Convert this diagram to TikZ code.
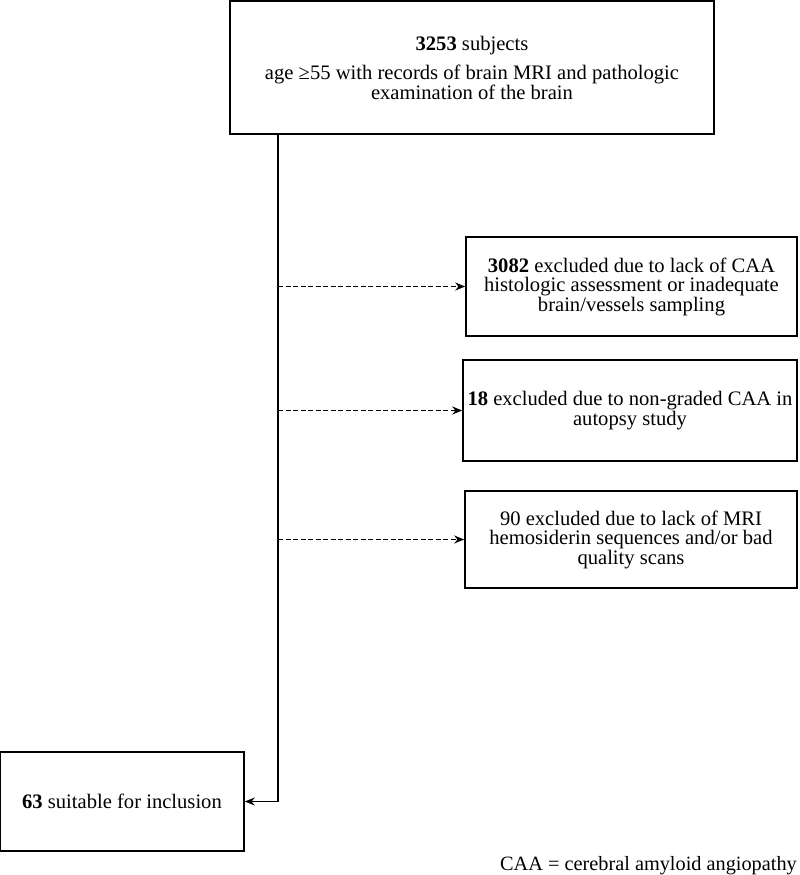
\documentclass[tikz,border=0pt]{standalone}
\usepackage{fontspec}
\setmainfont{Liberation Serif}
\usetikzlibrary{arrows.meta,calc}

\begin{document}
\begin{tikzpicture}
    [x=1pt, y=-1pt,
     >={Stealth[length=10pt, width=8pt]},  % Uniform arrow style
     flowbox/.style={shape=rectangle, draw=black, line width=1.6pt, align=center, inner sep=0pt,
                     font=\fontsize{20.6}{19.5}\selectfont},
     flowline/.style={draw=black, line width=1.4pt},
     skipline/.style={flowline, line width=1.6pt, dash pattern=on 5pt off 2.5pt},
    ]

\useasboundingbox (0,0) rectangle (800,875);

\node[flowbox, minimum width=484pt, minimum height=133pt] (node_all) at (472,67.5) {\textbf{3253} subjects\\[10pt] age ≥55 with records of brain MRI and pathologic\\ examination of the brain};
\node[flowbox, minimum width=331pt, minimum height=99pt] (node_hist) at (631.5,286.5) {\textbf{3082} excluded due to lack of CAA\\ histologic assessment or inadequate\\ brain/vessels sampling};
\node[flowbox, minimum width=334pt, minimum height=101pt] (node_grade) at (630,410.5) {\textbf{18} excluded due to non-graded CAA in\\ autopsy study};
\node[flowbox, minimum width=332pt, minimum height=97pt] (node_mri) at (631,539.5) {90 excluded due to lack of MRI\\ hemosiderin sequences and/or bad\\ quality scans};
\node[flowbox, minimum width=244pt, minimum height=99pt] (node_incl) at (122,801.5) {\textbf{63} suitable for inclusion};
\node[anchor=base east, inner sep=0pt, font=\fontsize{20.3}{19.5}\selectfont] (node_note) at (797,870) {CAA = cerebral amyloid angiopathy};

\coordinate (trunk) at (278,134);
\draw[flowline, ->] (trunk) |- (node_incl.east);
\draw[skipline, ->] (trunk |- node_hist.west) -- (node_hist.west);
\draw[skipline, ->] (trunk |- node_grade.west) -- (node_grade.west);
\draw[skipline, ->] (trunk |- node_mri.west) -- (node_mri.west);

\end{tikzpicture}
\end{document}
